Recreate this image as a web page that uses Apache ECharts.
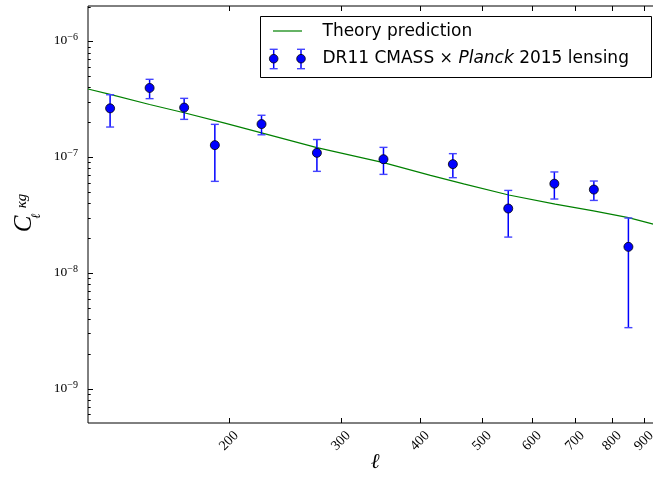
<!DOCTYPE html>
<html><head><meta charset="utf-8">
<script src="https://cdn.jsdelivr.net/npm/echarts@6/dist/echarts.min.js"></script>
<style>html,body{margin:0;padding:0;background:#fff;overflow:hidden;width:653px;height:480px}#c{width:662px;height:480px}</style>
</head><body><div id="c"></div>
<script>
// Data: DR11 CMASS x Planck 2015 lensing cross-spectrum
const ell      = [130, 150, 170, 190, 225, 275, 350, 450, 550, 650, 750, 850];
const clValues = [2.64e-7, 3.96e-7, 2.68e-7, 1.27e-7, 1.93e-7, 1.09e-7, 9.6e-8, 8.7e-8, 3.6e-8, 5.9e-8, 5.25e-8, 1.68e-8];
const clLower  = [1.82e-7, 3.20e-7, 2.12e-7, 6.18e-8, 1.56e-7, 7.54e-8, 7.10e-8, 6.65e-8, 2.04e-8, 4.35e-8, 4.23e-8, 3.37e-9];
const clUpper  = [3.46e-7, 4.70e-7, 3.22e-7, 1.92e-7, 2.30e-7, 1.42e-7, 1.215e-7, 1.072e-7, 5.16e-8, 7.45e-8, 6.22e-8, 2.98e-8];
// Theory prediction curve
const theoryEll = [120, 130, 150, 170, 197, 232, 275, 350, 415, 468, 551, 652, 749, 850, 930, 960];
const theoryCl  = [3.88e-7, 3.48e-7, 2.85e-7, 2.42e-7, 1.965e-7, 1.548e-7, 1.207e-7, 8.96e-8, 6.95e-8, 5.87e-8, 4.71e-8, 3.93e-8, 3.43e-8, 3.00e-8, 2.64e-8, 2.52e-8];
// Axes
const xTickValues = [200, 300, 400, 500, 600, 700, 800, 900];
const xTickLabels = ['200', '300', '400', '500', '600', '700', '800', '900'];
const yTickValues = [1e-9, 1e-8, 1e-7, 1e-6];
const yTickExponents = ['\u22129', '\u22128', '\u22127', '\u22126'];
const X_MIN = 120, X_MAX = 960, Y_MIN = 5.06e-10, Y_MAX = 2.02e-6;
const yMinorTickValues = [];
for (let e = -10; e <= -6; e++) for (let m = 2; m <= 9; m++) {
  const v = m * Math.pow(10, e);
  if (v > Y_MIN && v < Y_MAX) yMinorTickValues.push(v);
}

const BLUE = '#0000ff', GREEN = '#008000';
const chart = echarts.init(document.getElementById('c'), null, {renderer: 'canvas'});

function errBar(x, yLo, yHi, w) {
  return [
    {type: 'line', shape: {x1: x, y1: yLo, x2: x, y2: yHi}, style: {stroke: BLUE, lineWidth: 1.5}},
    {type: 'line', shape: {x1: x - w, y1: yLo, x2: x + w, y2: yLo}, style: {stroke: '#4444ff', lineWidth: 1.4}},
    {type: 'line', shape: {x1: x - w, y1: yHi, x2: x + w, y2: yHi}, style: {stroke: '#4444ff', lineWidth: 1.4}}
  ];
}

const option = {
  animation: false,
  backgroundColor: '#fff',
  grid: {left: 88, top: 6, right: 0, bottom: 57, show: true, borderColor: '#000', borderWidth: 1, backgroundColor: 'transparent'},
  xAxis: {type: 'log', logBase: 10, min: X_MIN, max: X_MAX,
    axisLine: {show: false}, axisTick: {show: false}, axisLabel: {show: false}, splitLine: {show: false}, minorTick: {show: false}},
  yAxis: {type: 'log', logBase: 10, min: Y_MIN, max: Y_MAX,
    axisLine: {show: false}, axisTick: {show: false}, axisLabel: {show: false}, splitLine: {show: false}, minorTick: {show: false}},
  series: [
    {type: 'line', name: 'Theory prediction', data: theoryEll.map((l, i) => [l, theoryCl[i]]),
      showSymbol: false, symbol: 'none', lineStyle: {color: GREEN, width: 1.2}, z: 2, silent: true},
    {type: 'custom', name: 'err', silent: true, z: 3, clip: false,
      data: ell.map((l, i) => [l, clLower[i], clUpper[i]]),
      encode: {x: 0, y: [1, 2]},
      renderItem: (params, api) => {
        const lo = api.coord([api.value(0), api.value(1)]);
        const hi = api.coord([api.value(0), api.value(2)]);
        return {type: 'group', children: errBar(lo[0], lo[1], hi[1], 4)};
      }},
    {type: 'scatter', name: 'data', data: ell.map((l, i) => [l, clValues[i]]), symbolSize: 9, z: 4, silent: true,
      itemStyle: {color: BLUE, borderColor: '#000', borderWidth: 0.8, opacity: 1}},
    // x ticks + labels
    {type: 'custom', silent: true, z: 5, clip: false,
      data: xTickValues.map((v, i) => [v, 1e-8, i]),
      encode: {x: 0, y: 1},
      renderItem: (params, api) => {
        const cs = params.coordSys;
        const px = Math.round(api.coord([api.value(0), 1e-8])[0]) + 0.5;
        const b = cs.y + cs.height, t = cs.y;
        return {type: 'group', children: [
          {type: 'line', shape: {x1: px, y1: b, x2: px, y2: b - 5}, style: {stroke: '#000', lineWidth: 1}},
          {type: 'line', shape: {x1: px, y1: t, x2: px, y2: t + 5}, style: {stroke: '#000', lineWidth: 1}},
          {type: 'text', x: px - 0.5, y: b + 18, rotation: Math.PI / 4,
            style: {text: xTickLabels[api.value(2)], fontFamily: 'Liberation Serif', fontSize: 14, fill: '#000', align: 'center', verticalAlign: 'middle'}}
        ]};
      }},
    // y major ticks + labels
    {type: 'custom', silent: true, z: 5, clip: false,
      data: yTickValues.map((v, i) => [200, v, i]),
      encode: {x: 0, y: 1},
      renderItem: (params, api) => {
        const cs = params.coordSys;
        const py = Math.round(api.coord([200, api.value(1)])[1]) + 0.5;
        const l = cs.x;
        return {type: 'group', children: [
          {type: 'line', shape: {x1: l, y1: py, x2: l + 5, y2: py}, style: {stroke: '#000', lineWidth: 1}},
          {type: 'text', x: l - 10, y: py - 1,
            style: {text: '{b|10}{s|' + yTickExponents[api.value(2)] + '}', align: 'right', verticalAlign: 'middle', fill: '#000',
              rich: {b: {fontFamily: 'Liberation Serif', fontSize: 13.5, lineHeight: 16, fill: '#000'},
                     s: {fontFamily: 'Liberation Serif', fontSize: 10, lineHeight: 8, verticalAlign: 'top', fill: '#000'}}}}
        ]};
      }},
    // y minor ticks
    {type: 'custom', silent: true, z: 5, clip: false,
      data: yMinorTickValues.map(v => [200, v]),
      encode: {x: 0, y: 1},
      renderItem: (params, api) => {
        const cs = params.coordSys;
        const py = Math.round(api.coord([200, api.value(1)])[1]) + 0.5;
        return {type: 'line', shape: {x1: cs.x, y1: py, x2: cs.x + 2.7, y2: py}, style: {stroke: '#000', lineWidth: 1}};
      }}
  ],
  graphic: [
    // axis titles
    {type: 'text', x: 375, y: 463, z: 50, style: {text: '\u2113', font: 'italic 21px "DejaVu Serif"', fill: '#000', align: 'center', verticalAlign: 'middle'}},
    {type: 'text', x: 24, y: 224, rotation: Math.PI / 2, z: 50, style: {text: 'C', font: 'italic 25px "Liberation Serif"', fill: '#000', align: 'center', verticalAlign: 'middle'}},
    {type: 'text', x: 22, y: 201, rotation: Math.PI / 2, z: 50, style: {text: '\u03bag', font: 'italic 15px "Liberation Serif"', fill: '#000', align: 'center', verticalAlign: 'middle'}},
    {type: 'text', x: 37, y: 216, rotation: Math.PI / 2, z: 50, style: {text: '\u2113', font: 'italic 13px "DejaVu Serif"', fill: '#000', align: 'center', verticalAlign: 'middle'}},
    // legend
    {type: 'rect', z: 100, shape: {x: 260.5, y: 16.5, width: 391, height: 61}, style: {fill: '#fff', stroke: '#000', lineWidth: 1}},
    {type: 'line', z: 101, shape: {x1: 273, y1: 31, x2: 302, y2: 31}, style: {stroke: GREEN, lineWidth: 1.2}},
    {type: 'text', z: 101, x: 322.5, y: 31.5, style: {text: 'Theory prediction', font: '17px "DejaVu Sans"', fill: '#000', align: 'left', verticalAlign: 'middle'}},
    {type: 'group', z: 101, children: errBar(273.7, 68.7, 49.3, 4).concat(errBar(301, 68.7, 49.3, 4)).map(e => Object.assign(e, {z: 101}))},
    {type: 'circle', z: 102, shape: {cx: 273.7, cy: 58.7, r: 4.3}, style: {fill: BLUE, stroke: '#000', lineWidth: 0.8}},
    {type: 'circle', z: 102, shape: {cx: 301, cy: 58.7, r: 4.3}, style: {fill: BLUE, stroke: '#000', lineWidth: 0.8}},
    {type: 'text', z: 101, x: 322.5, y: 59, style: {
      text: '{n|DR11 CMASS }{m|\u00d7}{n| }{i|Planck}{n| 2015 lensing}', align: 'left', verticalAlign: 'middle', fill: '#000',
      rich: {n: {font: '17px "DejaVu Sans"', fill: '#000'}, i: {font: 'italic 17px "DejaVu Sans"', fill: '#000'}, m: {font: '16px "DejaVu Serif"', fill: '#000'}}}}
  ]
};
chart.setOption(option);
</script></body></html>
